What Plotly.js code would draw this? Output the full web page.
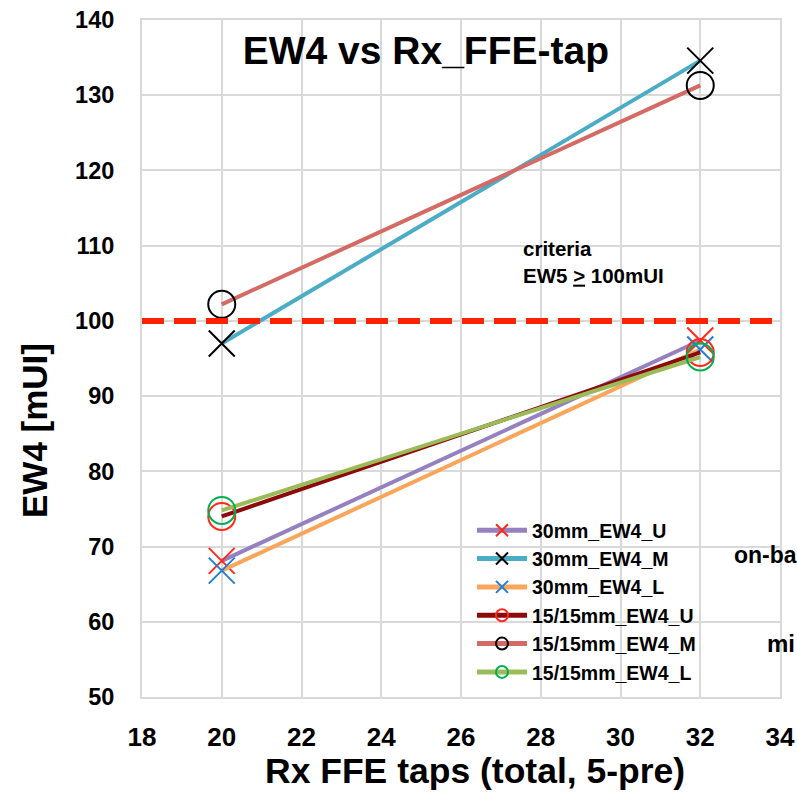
<!DOCTYPE html>
<html>
<head>
<meta charset="utf-8">
<script src="https://cdn.plot.ly/plotly-3.0.1.min.js"></script>
<style>html,body{margin:0;padding:0;background:#fff;}#chart{width:797px;height:796px;}</style>
</head>
<body>
<div id="chart"></div>
<script>
// Data
const taps = [20, 32];
const seriesNames = ["30mm_EW4_U", "30mm_EW4_M", "30mm_EW4_L", "15/15mm_EW4_U", "15/15mm_EW4_M", "15/15mm_EW4_L"];
const ew4_30mm_U = [68.1, 97.4];
const ew4_30mm_M = [97.0, 134.6];
const ew4_30mm_L = [66.8, 96.2];
const ew4_1515_U = [74.0, 95.8];
const ew4_1515_M = [102.2, 131.3];
const ew4_1515_L = [74.8, 95.2];
const criteriaValue = 100;
const xTicks = [18, 20, 22, 24, 26, 28, 30, 32, 34];
const yTicks = [50, 60, 70, 80, 90, 100, 110, 120, 130, 140];

const values = [ew4_30mm_U, ew4_30mm_M, ew4_30mm_L, ew4_1515_U, ew4_1515_M, ew4_1515_L];
const lineColors = ["#9580c0", "#4bacc6", "#f9a65a", "#8b0a0a", "#d46a64", "#9bbb59"];
const markerColors = ["#ff2a1a", "#000000", "#1f7fd4", "#ff2a1a", "#000000", "#00b050"];
const symbols = ["x-thin-open", "x-thin-open", "x-thin-open", "circle-open", "circle-open", "circle-open"];

const font = "Liberation Sans, Arial, sans-serif";

const traces = values.map((v, i) => ({
  type: "scatter",
  mode: "lines+markers",
  name: "<b>" + seriesNames[i] + "</b>",
  x: taps,
  y: v,
  line: {color: lineColors[i], width: 4},
  marker: {
    symbol: symbols[i],
    size: symbols[i] === "circle-open" ? 27 : 26,
    color: markerColors[i],
    line: {color: markerColors[i], width: 2}
  }
}));

const layout = {
  width: 797,
  height: 796,
  margin: {l: 142, r: 17, t: 20, b: 99},
  paper_bgcolor: "#ffffff",
  plot_bgcolor: "#ffffff",
  showlegend: true,
  font: {family: font, color: "#000"},
  title: {
    text: "<b>EW4 vs Rx_FFE-tap</b>",
    font: {family: font, size: 39, color: "#000"},
    xref: "paper", x: 0.445, xanchor: "center",
    yref: "container", y: 1 - 50 / 796, yanchor: "middle"
  },
  xaxis: {
    range: [18, 34],
    tickvals: xTicks,
    ticktext: xTicks.map(t => "<b>" + t + "</b>"),
    showgrid: true, gridcolor: "#d9d9d9", gridwidth: 2,
    showline: true, linecolor: "#d9d9d9", linewidth: 2, mirror: true,
    zeroline: false, ticks: "",
    ticklabelstandoff: 16,
    tickfont: {family: font, size: 26, color: "#000"}
  },
  yaxis: {
    range: [50, 140],
    tickvals: yTicks,
    ticktext: yTicks.map(t => "<b>" + t + "</b>"),
    showgrid: true, gridcolor: "#d9d9d9", gridwidth: 2,
    showline: true, linecolor: "#d9d9d9", linewidth: 2, mirror: true,
    zeroline: false, ticks: "",
    ticklabelstandoff: 21,
    tickfont: {family: font, size: 23.5, color: "#000"}
  },
  legend: {
    x: (472 - 142) / 638, xanchor: "left",
    y: (697 - 511) / 677, yanchor: "top",
    bgcolor: "rgba(0,0,0,0)",
    borderwidth: 0,
    itemsizing: "constant",
    itemwidth: 50,
    tracegroupgap: 0,
    font: {family: font, size: 19.5, color: "#000"}
  },
  shapes: [{
    type: "line", xref: "paper", x0: 0, x1: 1, yref: "y", y0: criteriaValue, y1: criteriaValue,
    line: {color: "#ff2200", width: 6, dash: "22px,10px"}
  }],
  annotations: [
    {text: "<b>Rx FFE taps (total, 5-pre)</b>", xref: "paper", yref: "paper",
     x: (475 - 142) / 638, y: -(771 - 697) / 677, xanchor: "center", yanchor: "middle",
     showarrow: false, borderpad: 0, font: {family: font, size: 35.5, color: "#000"}},
    {text: "<b>EW4 [mUI]</b>", xref: "paper", yref: "paper", textangle: -90,
     x: (34 - 142) / 638, y: (697 - 431) / 677, xanchor: "center", yanchor: "middle",
     showarrow: false, font: {family: font, size: 35, color: "#000"}},
    {text: "<b>criteria</b><br><b>EW5 <u>></u> 100mUI</b>", xref: "paper", yref: "paper",
     x: (521 - 142) / 638, y: (697 - 235) / 677, xanchor: "left", yanchor: "top", align: "left",
     showarrow: false, font: {family: font, size: 20.5, color: "#000"}},
    {text: "<b>on-ba</b>", xref: "paper", yref: "paper", x: (733 - 142) / 638, y: (697 - 555) / 677,
     xanchor: "left", yanchor: "middle", showarrow: false, borderpad: 0, font: {family: font, size: 23, color: "#000"}},
    {text: "<b>mi</b>", xref: "paper", yref: "paper", x: (766 - 142) / 638, y: (697 - 643) / 677,
     xanchor: "left", yanchor: "middle", showarrow: false, borderpad: 0, font: {family: font, size: 24, color: "#000"}}
  ]
};

Plotly.newPlot("chart", traces, layout, {displayModeBar: false, staticPlot: true});
</script>
</body>
</html>
